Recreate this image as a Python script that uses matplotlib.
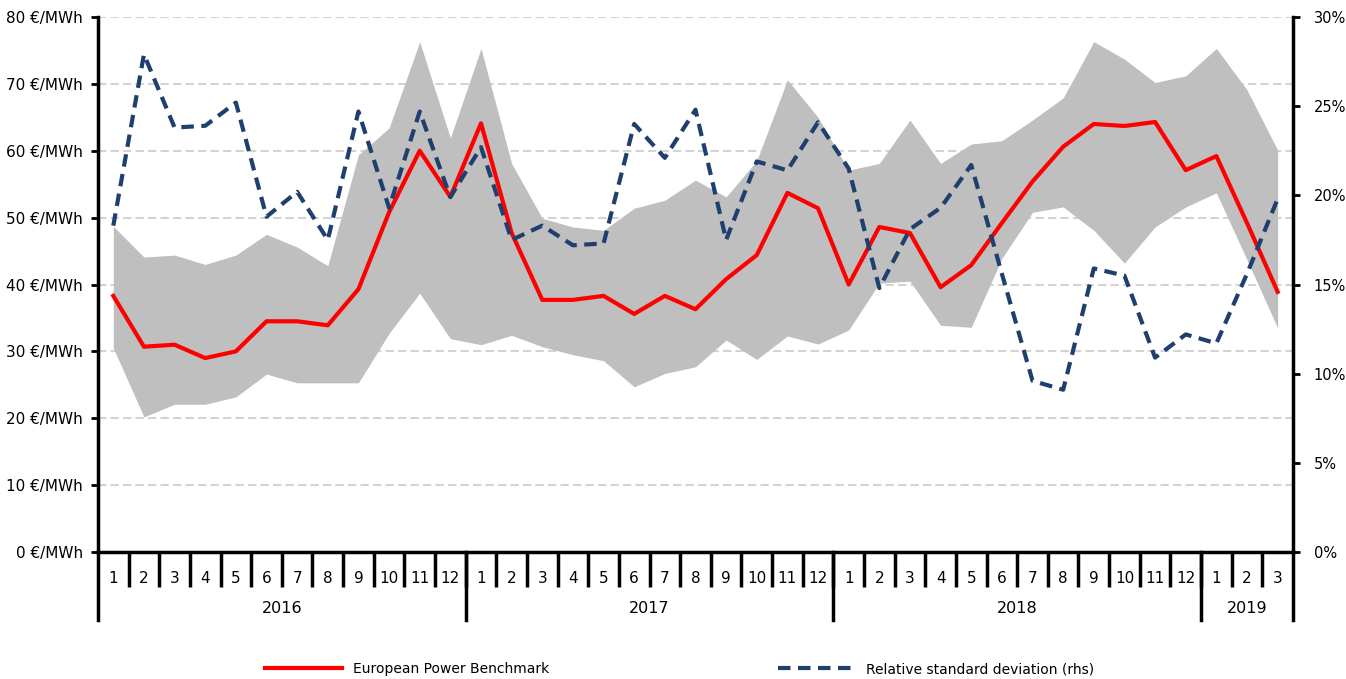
import matplotlib
matplotlib.use("Agg")
import matplotlib.pyplot as plt
import matplotlib.transforms as mtransforms
from matplotlib.lines import Line2D
from matplotlib.ticker import FuncFormatter

# monthly data, Jan 2016 - Mar 2019
months = [str(m) for m in range(1, 13)] * 3 + ["1", "2", "3"]
years = ["2016", "2017", "2018", "2019"]
year_lengths = [12, 12, 12, 3]

benchmark = [38.3, 30.7, 31.0, 29.0, 30.0, 34.5, 34.5, 33.9, 39.3, 50.8, 60.0, 53.1,
             64.1, 47.7, 37.7, 37.7, 38.3, 35.6, 38.3, 36.3, 40.8, 44.4, 53.7, 51.4,
             40.0, 48.6, 47.7, 39.6, 42.9, 49.2, 55.4, 60.6, 64.0, 63.7, 64.3, 57.1,
             59.2, 49.2, 38.9]

band_high = [48.7, 44.1, 44.4, 43.0, 44.4, 47.5, 45.6, 42.8, 59.4, 63.4, 76.3, 61.9,
             75.3, 58.1, 49.9, 48.6, 48.1, 51.4, 52.6, 55.6, 53.1, 58.5, 70.6, 65.0,
             57.1, 58.1, 64.6, 58.1, 61.0, 61.5, 64.6, 67.9, 76.3, 73.7, 70.2, 71.2,
             75.3, 69.1, 60.1]

band_low = [30.5, 20.2, 22.1, 22.1, 23.2, 26.6, 25.3, 25.3, 25.3, 32.7, 38.7, 31.9,
            31.0, 32.4, 30.7, 29.5, 28.6, 24.7, 26.7, 27.7, 31.7, 28.8, 32.3, 31.1,
            33.2, 40.2, 40.5, 33.9, 33.6, 43.9, 50.8, 51.6, 48.1, 43.2, 48.6, 51.6,
            53.7, 43.7, 33.5]

rel_std = [18.3, 27.9, 23.8, 23.9, 25.2, 18.8, 20.2, 17.5, 24.7, 19.3, 24.7, 19.9,
           22.7, 17.5, 18.3, 17.2, 17.3, 24.0, 22.1, 24.8, 17.5, 21.9, 21.4, 24.1,
           21.5, 14.8, 18.1, 19.3, 21.7, 15.6, 9.6, 9.1, 15.9, 15.5, 10.9, 12.2,
           11.7, 15.6, 19.8]

x = list(range(len(months)))

fig = plt.figure(figsize=(13.46, 6.79), dpi=100)
ax = fig.add_axes([0.0728, 0.187, 0.8878, 0.788])
ax2 = ax.twinx()

ax.fill_between(x, band_low, band_high, color="#BFBFBF", linewidth=0, zorder=2)
ax.plot(x, benchmark, color="#FF0000", lw=3, zorder=3)
ax2.plot(x, [v / 100 for v in rel_std], color="#1F3F6F", lw=3,
         dashes=(3, 1.8), zorder=3)

ax.set_xlim(-0.5, len(x) - 0.5)
ax.set_ylim(0, 80)
ax2.set_ylim(0, 0.30)
ax.set_yticks(range(0, 81, 10))
ax.yaxis.set_major_formatter(FuncFormatter(lambda v, p: f"{v:.0f} €/MWh"))
ax2.set_yticks([i * 0.05 for i in range(7)])
ax2.yaxis.set_major_formatter(FuncFormatter(lambda v, p: f"{v * 100:.0f}%"))

ax.grid(axis="y", color="#D3D3D3", linestyle=(0, (4, 2)), lw=1.5, zorder=0)
ax.set_axisbelow(True)

for a in (ax, ax2):
    a.spines["top"].set_visible(False)
    a.spines["left"].set_linewidth(2.5)
    a.spines["right"].set_linewidth(2.5)
    a.spines["bottom"].set_linewidth(2.5)
ax.spines["right"].set_visible(False)
ax2.spines["left"].set_visible(False)
ax2.spines["bottom"].set_visible(False)

ax.tick_params(axis="y", length=5, width=2, labelsize=11, colors="black", pad=6)
ax2.tick_params(axis="y", length=5, width=2, labelsize=10.5, colors="black", pad=10)

# month labels + separators
ax.set_xticks(x)
ax.set_xticklabels(months, fontsize=11)
ax.tick_params(axis="x", which="major", length=0, pad=14)
ax.set_xticks([i + 0.5 for i in x[:-1]], minor=True)
ax.tick_params(axis="x", which="minor", length=25, width=2.5, color="black")

# year separators and labels below the months
trans = mtransforms.blended_transform_factory(ax.transData, ax.transAxes)
drop = 68 / 535
bounds = [-0.5]
for n in year_lengths:
    bounds.append(bounds[-1] + n)
for b in bounds:
    ax.add_line(Line2D([b, b], [0, -drop], transform=trans, color="black",
                       lw=2.5, clip_on=False))
for i, yr in enumerate(years):
    ax.text((bounds[i] + bounds[i + 1]) / 2, -0.105, yr, transform=trans,
            ha="center", va="center", fontsize=11.5)

handles = [Line2D([], [], color="#FF0000", lw=3),
           Line2D([], [], color="#1F3F6F", lw=3, dashes=(3, 1.8))]
fig.legend(handles, ["European Power Benchmark", "Relative standard deviation (rhs)"],
           loc="lower center", bbox_to_anchor=(0.505, -0.014), ncol=2, frameon=False,
           fontsize=10, handlelength=5.5, columnspacing=16.5)

fig.savefig("out.png", dpi=100)
